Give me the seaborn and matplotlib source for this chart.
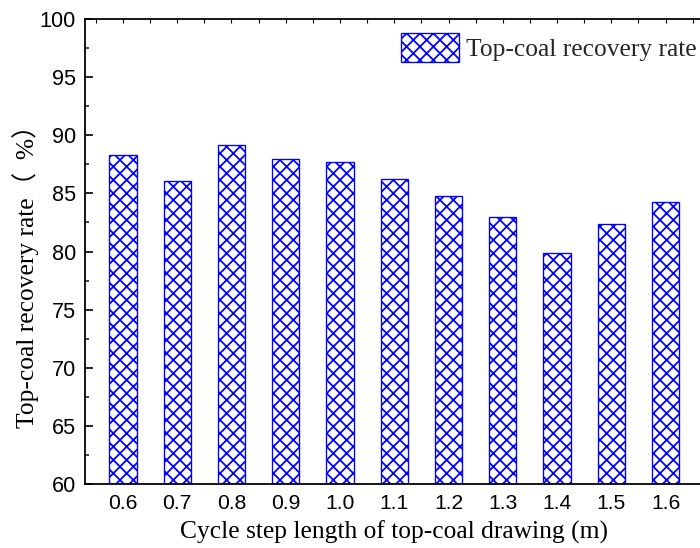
import matplotlib
matplotlib.use("Agg")
import matplotlib.pyplot as plt
import seaborn as sns
import pandas as pd
from matplotlib.patches import Patch
from matplotlib.ticker import MultipleLocator, FixedLocator

steps = ["0.6", "0.7", "0.8", "0.9", "1.0", "1.1", "1.2", "1.3", "1.4", "1.5", "1.6"]
recovery = [88.3, 86.1, 89.2, 88.0, 87.7, 86.2, 84.8, 83.0, 79.9, 82.4, 84.3]
series_label = "Top-coal recovery rate"
xlabel = "Cycle step length of top-coal drawing (m)"
ylabel = "Top-coal recovery rate（  %）"

sns.set_theme(style="ticks")
plt.rcParams["hatch.linewidth"] = 1.6
plt.rcParams["hatch.color"] = "blue"

DPI = 80
fig = plt.figure(figsize=(700 / DPI, 548 / DPI), dpi=DPI)
ax = fig.add_axes([85 / 700, 1 - 484 / 548, (703.5 - 85) / 700, (484 - 19) / 548])

df = pd.DataFrame({"step": steps, "rate": recovery})
sns.barplot(data=df, x="step", y="rate", ax=ax, width=0.5, color="white",
            edgecolor="blue", linewidth=1.2, hatch="xx", saturation=1)
for p in ax.patches:
    p.set_facecolor("white")
    p.set_edgecolor("blue")
    p.set_hatch("xx")

ax.set_ylim(60, 100)
ax.set_xlim(-0.7, 10.7)
ax.yaxis.set_major_locator(MultipleLocator(5))
ax.yaxis.set_minor_locator(MultipleLocator(2.5))

for s in ax.spines.values():
    s.set_linewidth(1.6)
    s.set_color("black")

ax.tick_params(axis="y", which="major", direction="in", length=7, width=1.5,
               labelsize=19.5, pad=8, colors="black", right=False)
ax.tick_params(axis="y", which="minor", direction="in", length=4, width=1.5, right=False)
ax.xaxis.set_minor_locator(FixedLocator([i + 0.5 for i in range(-1, 11)]))
ax.tick_params(axis="x", which="both", direction="in", bottom=False, top=True,
               labelbottom=True, labeltop=False, length=4, width=1.0,
               labelsize=19, pad=9, colors="black")
for lab in ax.get_xticklabels() + ax.get_yticklabels():
    lab.set_family("Liberation Sans")

ax.set_xlabel(xlabel, family="Liberation Serif", fontsize=23, labelpad=7, color="black")
ax.set_ylabel(ylabel, family=["Liberation Serif", "Noto Sans CJK SC"], fontsize=23,
              color="black")
ax.yaxis.set_label_coords(-0.075, 0.46)

handle = Patch(facecolor="white", edgecolor="blue", hatch="xx", linewidth=1.2)
leg = ax.legend([handle], [series_label], loc="upper right", frameon=False,
                bbox_to_anchor=(697 / 700, 1 - 33 / 548), bbox_transform=fig.transFigure,
                handlelength=2.27, handleheight=1.35, handletextpad=0.27, borderaxespad=0,
                borderpad=0, prop={"family": "Liberation Serif", "size": 23})

fig.savefig("out.png", dpi=DPI)
